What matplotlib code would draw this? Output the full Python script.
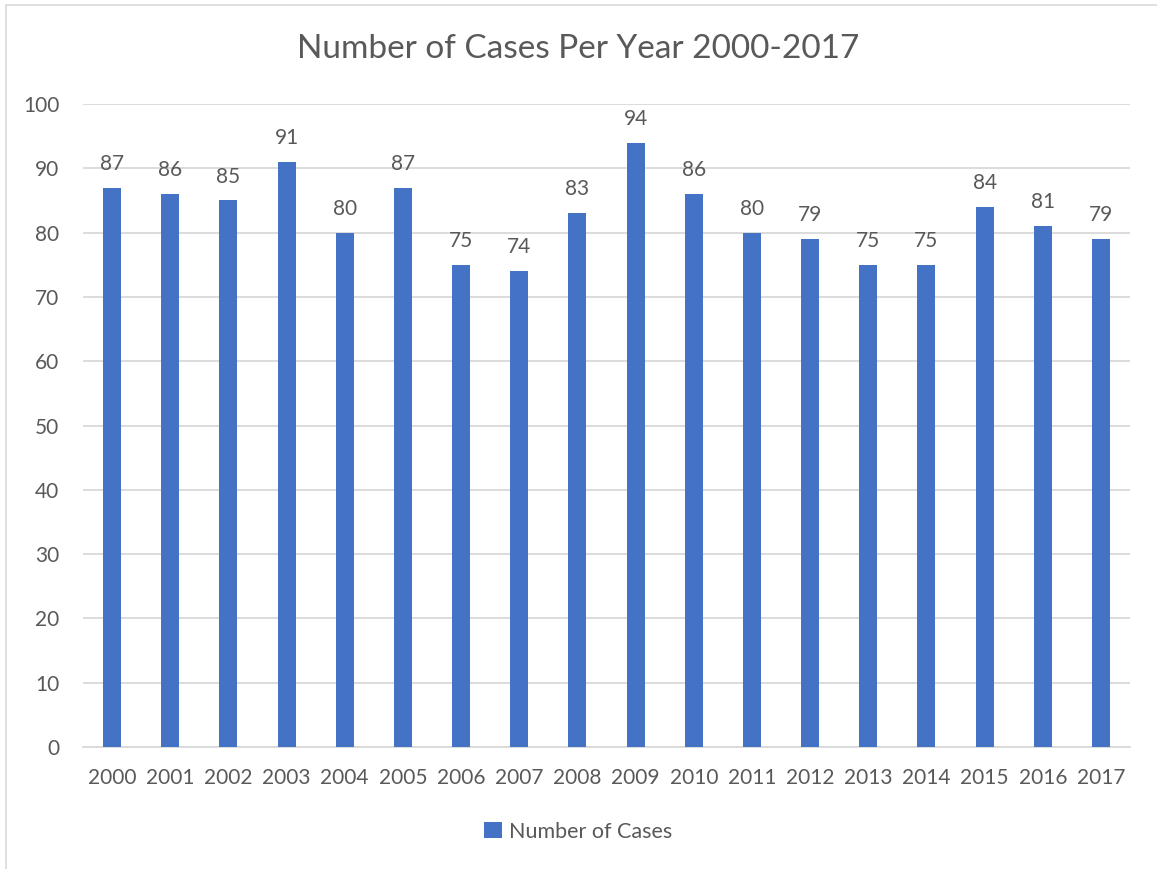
import matplotlib.pyplot as plt
from matplotlib.patches import Rectangle
import numpy as np

years = [str(y) for y in range(2000, 2018)]
cases = [87, 86, 85, 91, 80, 87, 75, 74, 83, 94, 86, 80, 79, 75, 75, 84, 81, 79]

bar_color = '#4472C4'
text_color = '#595959'
grid_color = '#D9D9D9'

plt.rcParams['font.family'] = ['Lato', 'DejaVu Sans']

fig = plt.figure(figsize=(11.57, 8.69), dpi=100)
ax = fig.add_axes([0.0717, 0.1404, 0.9050, 0.7399])

x = np.arange(len(years))
bars = ax.bar(x, cases, width=0.31, color=bar_color, label='Number of Cases', zorder=3)
ax.bar_label(bars, labels=[str(v) for v in cases], padding=10, fontsize=15, color=text_color)

ax.set_xlim(-0.5, len(years) - 0.5)
ax.set_ylim(0, 100)
ax.set_yticks(range(0, 101, 10))
ax.set_xticks(x)
ax.set_xticklabels(years)
ax.tick_params(axis='both', length=0, labelsize=15, labelcolor=text_color)
ax.tick_params(axis='x', pad=15)
ax.tick_params(axis='y', pad=17)
ax.yaxis.grid(True, color=grid_color, linewidth=1.3, zorder=0)
for s in ['top', 'right', 'left']:
    ax.spines[s].set_visible(False)
ax.spines['bottom'].set_color(grid_color)
ax.spines['bottom'].set_linewidth(1.3)

fig.text(0.5, 0.944, 'Number of Cases Per Year 2000-2017', ha='center', va='center',
         fontsize=24, color=text_color)

fig.legend(loc='center', bbox_to_anchor=(0.5, 0.043), frameon=False, fontsize=15.5,
           labelcolor=text_color, handlelength=0.8, handleheight=0.8, handletextpad=0.35)

# thin chart-area border
fig.patches.append(Rectangle((6 / 1157, -0.1), 1.2, 1 - 5 / 869 + 0.1, transform=fig.transFigure,
                             fill=False, edgecolor='#D9D9D9', linewidth=1.2))

fig.savefig('out.png', dpi=100)
